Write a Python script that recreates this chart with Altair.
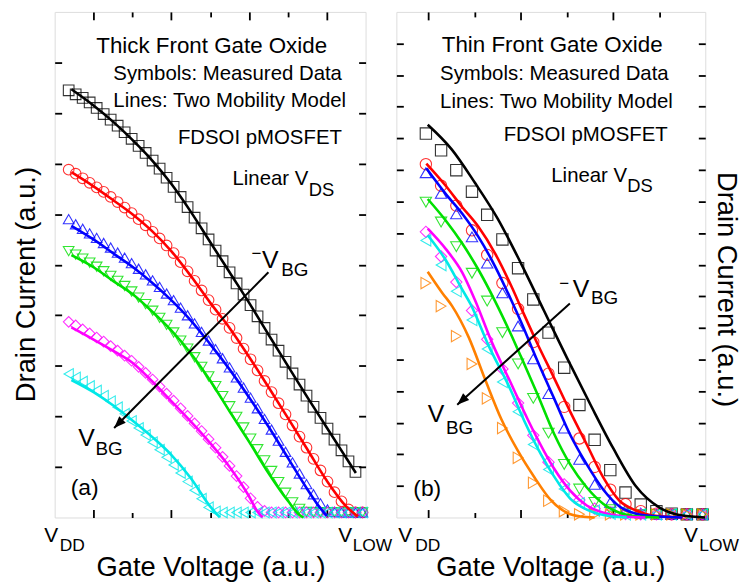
import altair as alt
import pandas as pd

FONT = "Liberation Sans"

# ---------------- series identity ----------------
SERIES = ["k", "r", "b", "g", "m", "c", "o"]
COLORS = ["#000000", "#FF0000", "#0000FF", "#00E000", "#FF00FF", "#00E8E8", "#FF8000"]
SHAPES = ["square", "circle", "triangle-up", "triangle-down", "diamond",
          "triangle-left", "triangle-right"]

# ---------------- panel (a): thick front gate oxide ----------------
XA_MEAS = [0.36, 0.54, 0.72, 0.90, 1.08, 1.26, 1.44, 1.62, 1.80, 1.98, 2.16, 2.34,
           2.52, 2.70, 2.88, 3.06, 3.24, 3.42, 3.60, 3.78, 3.96, 4.14, 4.32, 4.50,
           4.68, 4.86, 5.04, 5.22, 5.40, 5.58, 5.76, 5.94, 6.12, 6.30, 6.48, 6.66,
           6.84, 7.02, 7.20, 7.38, 7.56, 7.74, 7.92]
A_MEAS = {
    "k": [8.45, 8.37, 8.30, 8.21, 8.10, 7.98, 7.87, 7.75, 7.62, 7.49, 7.35, 7.21,
          7.06, 6.90, 6.72, 6.54, 6.34, 6.14, 5.93, 5.72, 5.50, 5.28, 5.07, 4.85,
          4.63, 4.41, 4.20, 3.98, 3.75, 3.52, 3.30, 3.08, 2.85, 2.63, 2.41, 2.19,
          1.97, 1.76, 1.54, 1.33, 1.11, 0.90, None],
    "r": [6.88, 6.80, 6.71, 6.62, 6.53, 6.44, 6.34, 6.24, 6.13, 6.02, 5.90, 5.78,
          5.65, 5.52, 5.38, 5.23, 5.05, 4.87, 4.68, 4.49, 4.30, 4.11, 3.93, 3.75,
          3.55, 3.34, 3.13, 2.91, 2.70, 2.48, 2.26, 2.04, 1.82, 1.60, 1.38, 1.16,
          0.93, 0.71, 0.50, 0.32, 0.16, 0.10, 0.10],
    "b": [5.90, 5.80, 5.71, 5.62, 5.53, 5.43, 5.34, 5.24, 5.14, 5.03, 4.92, 4.81,
          4.69, 4.56, 4.43, 4.30, 4.15, 4.00, 3.84, 3.67, 3.50, 3.33, 3.15, 2.97,
          2.77, 2.57, 2.37, 2.16, 1.95, 1.74, 1.52, 1.30, 1.09, 0.87, 0.66, 0.46,
          0.28, 0.16, 0.11, 0.10, 0.10, 0.10, 0.10],
    "g": [5.27, 5.20, 5.12, 5.04, 4.96, 4.87, 4.78, 4.68, 4.58, 4.47, 4.35, 4.22,
          4.09, 3.95, 3.81, 3.66, 3.50, 3.34, 3.17, 2.98, 2.79, 2.60, 2.40, 2.20,
          1.99, 1.78, 1.56, 1.35, 1.13, 0.92, 0.70, 0.49, 0.30, 0.17, 0.11, 0.10,
          0.10, 0.10, 0.10, 0.10, 0.10, 0.10, 0.10],
    "m": [3.87, 3.80, 3.72, 3.64, 3.56, 3.48, 3.39, 3.30, 3.20, 3.10, 2.98, 2.86,
          2.73, 2.59, 2.45, 2.31, 2.16, 2.01, 1.86, 1.71, 1.55, 1.38, 1.20, 1.02,
          0.82, 0.60, 0.38, 0.21, 0.13, 0.10, 0.10, 0.10, 0.10, 0.10, 0.10, 0.10,
          0.10, 0.10, 0.10, 0.10, 0.10, 0.10, 0.10],
    "c": [2.84, 2.77, 2.69, 2.60, 2.51, 2.41, 2.30, 2.18, 2.05, 1.91, 1.77, 1.63,
          1.49, 1.34, 1.19, 1.04, 0.88, 0.71, 0.54, 0.37, 0.20, 0.12, 0.10, 0.10,
          0.10, 0.10, 0.10, 0.10, 0.10, 0.10, 0.10, 0.10, 0.10, 0.10, 0.10, 0.10,
          0.10, 0.10, 0.10, 0.10, 0.10, 0.10, 0.10],
}
A_MODEL = {
    "k": ([0.43, 1.0, 1.5, 2.0, 2.5, 3.0, 3.5, 4.0, 4.5, 5.0, 5.5, 6.0, 6.5, 7.0, 7.5, 7.75],
          [8.47, 8.15, 7.83, 7.47, 7.07, 6.60, 6.05, 5.45, 4.85, 4.25, 3.62, 3.00, 2.38, 1.78, 1.18, 0.88]),
    "r": ([0.43, 1.0, 1.5, 2.0, 2.5, 3.0, 3.5, 4.0, 4.5, 5.0, 5.5, 6.0, 6.5, 7.0, 7.5, 7.8],
          [6.83, 6.55, 6.28, 6.00, 5.67, 5.27, 4.78, 4.25, 3.75, 3.18, 2.58, 1.97, 1.35, 0.73, 0.22, 0.02]),
    "b": ([0.43, 1.0, 1.5, 2.0, 2.5, 3.0, 3.5, 4.0, 4.5, 5.0, 5.5, 6.0, 6.5, 6.8, 7.0],
          [5.77, 5.50, 5.23, 4.96, 4.65, 4.30, 3.90, 3.43, 2.93, 2.38, 1.80, 1.18, 0.56, 0.22, 0.03]),
    "g": ([0.43, 1.0, 1.5, 2.0, 2.5, 3.0, 3.5, 4.0, 4.5, 5.0, 5.5, 6.0, 6.3, 6.4],
          [5.19, 4.95, 4.68, 4.42, 4.08, 3.70, 3.25, 2.71, 2.10, 1.50, 0.88, 0.33, 0.05, 0.0]),
    "m": ([0.43, 1.0, 1.5, 2.0, 2.5, 3.0, 3.5, 4.0, 4.5, 5.0, 5.2, 5.35],
          [3.76, 3.52, 3.30, 3.06, 2.70, 2.30, 1.90, 1.47, 1.00, 0.42, 0.14, 0.0]),
    "c": ([0.43, 1.0, 1.5, 2.0, 2.5, 3.0, 3.5, 4.0, 4.25],
          [2.72, 2.48, 2.22, 1.92, 1.60, 1.24, 0.78, 0.22, 0.0]),
}

# ---------------- panel (b): thin front gate oxide ----------------
XB_MEAS = [-0.06, 0.27, 0.60, 0.94, 1.27, 1.60, 1.94, 2.27, 2.60, 2.94, 3.27, 3.60,
           3.94, 4.27, 4.60, 4.94, 5.27, 5.60, 5.94]
B_MEAS = {
    "k": [12.15, 11.62, 10.99, 10.31, 9.58, 8.80, 7.89, 6.90, 5.85, 4.74, 3.56, 2.46,
          1.50, 0.79, 0.41, 0.20, 0.12, 0.10, 0.10],
    "r": [11.18, 10.50, 9.87, 9.09, 8.31, 7.42, 6.60, 5.55, 4.55, 3.50, 2.50, 1.60,
          0.88, 0.42, 0.20, 0.12, 0.10, 0.10, 0.10],
    "b": [10.91, 10.26, 9.61, 8.88, 8.05, 7.11, 6.06, 5.02, 3.92, 2.83, 1.84, 1.05,
          0.48, 0.25, 0.14, 0.10, 0.10, 0.10, 0.10],
    "g": [9.98, 9.35, 8.57, 7.73, 6.85, 5.85, 4.86, 3.77, 2.67, 1.68, 0.90, 0.48,
          0.25, 0.14, 0.10, 0.10, 0.10, 0.10, 0.10],
    "m": [9.04, 8.26, 7.45, 6.55, 5.64, 4.70, 3.62, 2.60, 1.75, 1.05, 0.55, 0.28,
          0.16, 0.11, 0.10, 0.10, 0.10, 0.10, 0.10],
    "c": [8.77, 7.99, 7.16, 6.25, 5.33, 4.29, 3.35, 2.31, 1.52, 0.90, 0.45, 0.22,
          0.12, 0.10, 0.10, 0.10, 0.10, 0.10, 0.10],
    "o": [7.42, 6.69, 5.74, 4.86, 3.77, 2.83, 1.89, 1.10, 0.53, 0.20, 0.10, 0.10,
          0.10, 0.10, 0.10, 0.10, 0.10, 0.10, 0.10],
}
B_MODEL = {
    "k": ([-0.02, 0.5, 1.0, 1.5, 2.0, 2.5, 3.0, 3.5, 4.0, 4.5, 5.0, 5.5, 6.0],
          [12.43, 11.65, 10.60, 9.45, 8.05, 6.55, 5.05, 3.60, 2.20, 0.98, 0.32, 0.06, 0.0]),
    "r": ([-0.05, 0.37, 0.73, 1.08, 1.44, 1.8, 2.0, 2.36, 2.72, 3.07, 3.43, 3.79, 4.14, 4.5, 4.86, 5.5],
          [11.20, 10.50, 9.82, 9.20, 8.36, 7.30, 6.65, 5.50, 4.42, 3.35, 2.31, 1.26, 0.53, 0.22, 0.06, 0.0]),
    "b": ([-0.05, 0.37, 0.73, 1.08, 1.44, 1.8, 2.0, 2.36, 2.72, 3.07, 3.43, 3.79, 4.14, 4.5, 5.0, 5.5],
          [11.05, 10.24, 9.61, 8.88, 7.95, 6.85, 6.20, 4.95, 3.77, 2.62, 1.68, 0.88, 0.35, 0.12, 0.03, 0.0]),
    "g": ([-0.02, 0.37, 0.73, 1.08, 1.44, 1.8, 2.0, 2.36, 2.72, 3.07, 3.43, 3.79, 4.14, 4.5, 5.0],
          [10.08, 9.40, 8.67, 7.84, 6.85, 5.75, 5.10, 3.90, 2.65, 1.68, 0.95, 0.43, 0.15, 0.04, 0.0]),
    "m": ([-0.02, 0.37, 0.73, 1.0, 1.37, 1.8, 2.15, 2.51, 2.72, 3.07, 3.43, 3.79, 4.2, 4.7],
          [9.14, 8.50, 7.75, 6.90, 5.55, 4.20, 3.10, 2.08, 1.55, 0.85, 0.38, 0.15, 0.04, 0.0]),
    "c": ([-0.02, 0.37, 0.73, 0.91, 1.3, 1.73, 2.08, 2.44, 2.72, 3.07, 3.43, 3.79, 4.3],
          [8.93, 8.15, 7.21, 6.75, 5.44, 4.19, 3.04, 1.99, 1.30, 0.60, 0.25, 0.08, 0.0]),
    "o": ([-0.02, 0.3, 0.51, 0.87, 1.23, 1.58, 1.94, 2.3, 2.65, 3.0, 3.3, 3.6],
          [7.78, 7.10, 6.69, 5.70, 4.35, 3.10, 2.10, 1.26, 0.55, 0.15, 0.03, 0.0]),
}

# ---------------- annotation texts: (text, x, y, font size, align) ----------------
A_TEXT = [
    ("Thick Front Gate Oxide", 4.04, 9.33, 22.5, "center"),
    ("Symbols: Measured Data", 1.51, 8.78, 20.5, "left"),
    ("Lines: Two Mobility Model", 1.51, 8.23, 20.5, "left"),
    ("FDSOI pMOSFET", 3.17, 7.50, 20.5, "left"),
    ("Linear V", 4.575, 6.70, 20.5, "left"),
    ("DS", 6.54, 6.48, 18.5, "left"),
    ("(a)", 0.77, 0.59, 23, "center"),
    ("\u2212", 5.19, 5.21, 17, "center"),
    ("V", 5.55, 5.09, 25, "center"),
    ("BG", 5.83, 4.89, 19, "left"),
    ("V", 0.82, 1.57, 25, "center"),
    ("BG", 1.05, 1.36, 19, "left"),
    ("V", -0.09, -0.36, 21, "center"),
    ("DD", 0.128, -0.56, 17.5, "left"),
    ("V", 7.476, -0.36, 21, "center"),
    ("LOW", 7.668, -0.56, 17.5, "left"),
]
B_TEXT = [
    ("Thin Front Gate Oxide", 2.68, 14.96, 22.5, "center"),
    ("Symbols: Measured Data", 0.248, 14.02, 20.5, "left"),
    ("Lines: Two Mobility Model", 0.248, 13.14, 20.5, "left"),
    ("FDSOI pMOSFET", 1.627, 12.10, 20.5, "left"),
    ("Linear V", 2.66, 10.81, 20.5, "left"),
    ("DS", 4.31, 10.50, 18.5, "left"),
    ("(b)", -0.03, 0.91, 23, "center"),
    ("\u2212", 2.94, 7.39, 17, "center"),
    ("V", 3.307, 7.23, 25, "center"),
    ("BG", 3.52, 6.95, 19, "left"),
    ("V", 0.162, 3.27, 25, "center"),
    ("BG", 0.377, 2.83, 19, "left"),
    ("V", -0.506, -0.58, 21, "center"),
    ("DD", -0.291, -0.90, 17.5, "left"),
    ("V", 5.687, -0.58, 21, "center"),
    ("LOW", 5.870, -0.90, 17.5, "left"),
]

# arrows: start (x, y) -> tip (x2, y2)
A_ARROW = (5.50, 4.85, 1.53, 1.77)
B_ARROW = (3.063, 6.77, 0.62, 3.57)
A_ARROW_ANGLE = 224.6
B_ARROW_ANGLE = 228.2


def meas_df(xs, d):
    rows = []
    for s, ys in d.items():
        for x, y in zip(xs, ys):
            if y is not None:
                rows.append({"s": s, "x": x, "y": y})
    return pd.DataFrame(rows)


def model_df(d):
    rows = []
    for s, (xs, ys) in d.items():
        for x, y in zip(xs, ys):
            rows.append({"s": s, "x": x, "y": y})
    return pd.DataFrame(rows)


def text_df(items):
    return pd.DataFrame([{"t": t, "x": x, "y": y, "fs": fs, "al": al}
                         for t, x, y, fs, al in items])


def tick_axis(orient, values, size, title=None, **kw):
    return alt.Axis(orient=orient, values=values, tickSize=size, offset=-size,
                    domain=False, labels=False, grid=False, ticks=True,
                    tickColor="black", tickWidth=1.8, title=title,
                    titleFont=FONT, titleFontSize=27.5, titleFontWeight="normal",
                    titleColor="black", titleAlign="center", titleBaseline="middle",
                    **kw)


def panel(mdf, ldf, tdf, arrow, angle, xdom, ydom, xmaj, xmin, yvals,
          width, height, msize, xtitle_x, yleft_title, yright_title):
    xs = alt.Scale(domain=xdom, nice=False, zero=False)
    ys = alt.Scale(domain=ydom, nice=False, zero=False)
    color = alt.Color("s:N", scale=alt.Scale(domain=SERIES, range=COLORS), legend=None)
    shape = alt.Shape("s:N", scale=alt.Scale(domain=SERIES, range=SHAPES), legend=None)

    ax_bottom_major = tick_axis("bottom", xmaj, 8, "Gate Voltage (a.u.)",
                                titleX=xtitle_x, titleY=58)
    ax_bottom_minor = tick_axis("bottom", xmin, 5)
    ax_top_major = tick_axis("top", xmaj, 8)
    ax_top_minor = tick_axis("top", xmin, 5)
    if yleft_title:
        ax_left = tick_axis("left", yvals, 7, yleft_title, titleX=-35, titleY=274,
                            titleAngle=270)
    else:
        ax_left = tick_axis("left", yvals, 7)
    if yright_title:
        ax_right = tick_axis("right", yvals, 7, yright_title, titleX=27, titleY=279,
                             titleAngle=90)
    else:
        ax_right = tick_axis("right", yvals, 7)

    markers = alt.Chart(mdf).mark_point(filled=False, strokeWidth=1.1, opacity=0.8,
                                        size=msize).encode(
        x=alt.X("x:Q", scale=xs, axis=ax_bottom_minor),
        y=alt.Y("y:Q", scale=ys, axis=ax_right),
        color=color, shape=shape)
    lines = alt.Chart(ldf).mark_line(strokeWidth=2.6, interpolate="monotone").encode(
        x=alt.X("x:Q", scale=xs, axis=ax_bottom_major),
        y=alt.Y("y:Q", scale=ys, axis=ax_left),
        color=color, detail="s:N")

    def txt(al, xaxis):
        enc = dict(
            y=alt.Y("y:Q", scale=ys, axis=None),
            text="t:N",
            size=alt.Size("fs:Q", scale=None),
        )
        if xaxis is None:
            enc["x"] = alt.X("x:Q", scale=xs, axis=None)
        else:
            enc["x"] = alt.X("x:Q", scale=xs, axis=xaxis)
        return alt.Chart(tdf).transform_filter(alt.datum.al == al).mark_text(
            align=al, baseline="middle", font=FONT, color="black").encode(**enc)

    adf = pd.DataFrame([{"x": arrow[0], "y": arrow[1], "x2": arrow[2], "y2": arrow[3]}])
    rule = alt.Chart(adf).mark_rule(strokeWidth=2, color="black").encode(
        x=alt.X("x:Q", scale=xs, axis=None), y=alt.Y("y:Q", scale=ys, axis=None),
        x2="x2:Q", y2="y2:Q")
    head = alt.Chart(adf).mark_point(shape="M0,0L0.38,1L-0.38,1Z", filled=True,
                                     color="black", opacity=1, size=576,
                                     angle=angle).encode(
        x=alt.X("x2:Q", scale=xs, axis=None), y=alt.Y("y2:Q", scale=ys, axis=None))

    return alt.layer(
        markers, lines,
        txt("left", ax_top_major), txt("center", ax_top_minor), txt("right", None),
        rule, head,
    ).resolve_axis(x="independent", y="independent").properties(width=width, height=height)


left = panel(meas_df(XA_MEAS, A_MEAS), model_df(A_MODEL), text_df(A_TEXT),
             A_ARROW, A_ARROW_ANGLE, [0, 8], [0, 10], [1, 3, 5, 7], [2, 4, 6],
             [1, 2, 3, 4, 5, 6, 7, 8, 9], 313, 509, 115, 157,
             "Drain Current (a.u.)", None)
right = panel(meas_df(XB_MEAS, B_MEAS), model_df(B_MODEL), text_df(B_TEXT),
              B_ARROW, B_ARROW_ANGLE, [-0.7, 6], [0, 16], [0, 2, 4], [1, 3, 5],
              [1, 2, 3, 4, 5, 6, 7, 8, 9, 10, 11, 12, 13, 14, 15], 311, 509, 130, 155,
              None, "Drain Current (a.u.)")

chart = alt.hconcat(left, right, spacing=31, bounds="flush").properties(
    padding={"left": 4, "top": 0, "right": 6, "bottom": 0}
).configure_view(stroke="black", strokeWidth=2, fill="white").configure(background="white")

chart.save("out.html", embed_options={"renderer": "svg", "actions": False})
